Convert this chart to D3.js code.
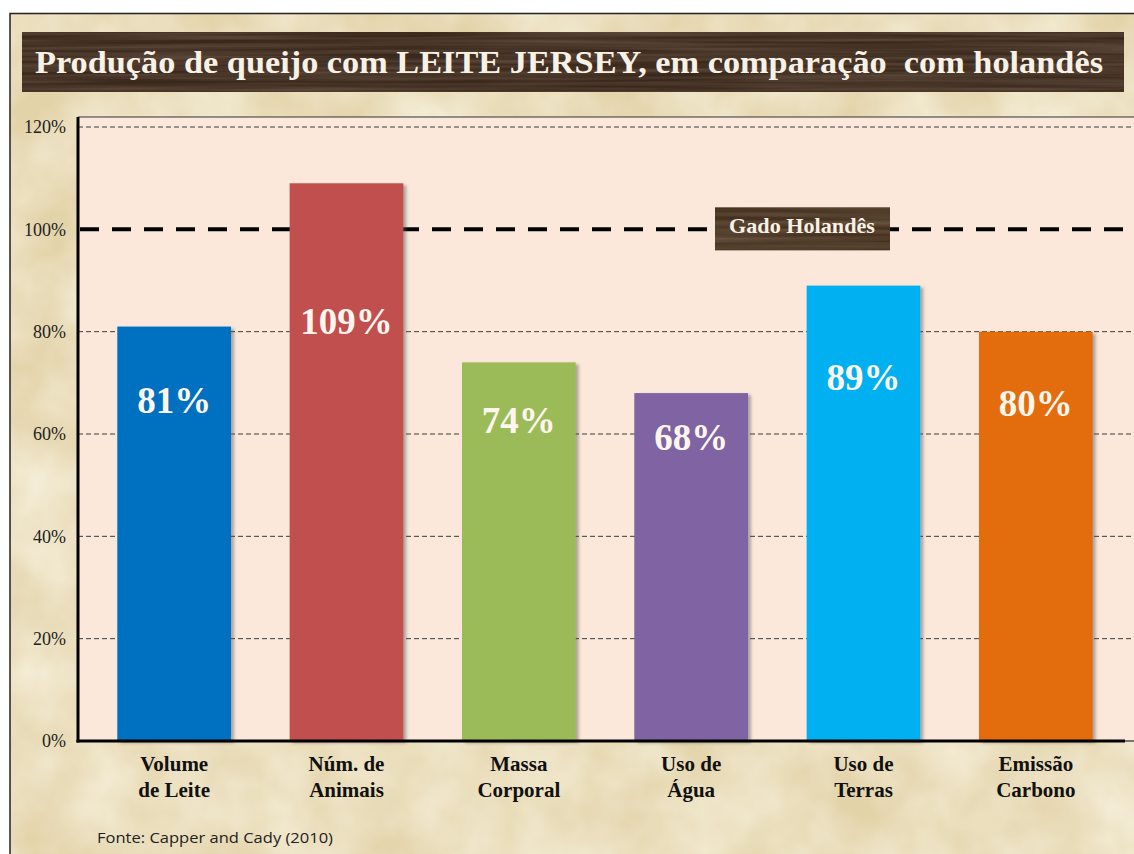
<!DOCTYPE html>
<html>
<head>
<meta charset="utf-8">
<script src="https://cdn.jsdelivr.net/npm/d3@7/dist/d3.min.js"></script>
<style>
  html, body { margin: 0; padding: 0; background: #e7d9b6; }
  svg { display: block; }
</style>
</head>
<body>
<svg id="chart" width="1134" height="854"></svg>
<script>
const titleText = "Produção de queijo com LEITE JERSEY, em comparação  com holandês";
const categories = [["Volume", "de Leite"], ["Núm. de", "Animais"], ["Massa", "Corporal"], ["Uso de", "Água"], ["Uso de", "Terras"], ["Emissão", "Carbono"]];
const values = [81, 109, 74, 68, 89, 80];
const valueLabels = ["81%", "109%", "74%", "68%", "89%", "80%"];
const barColors = ["#0070C0", "#C0504D", "#9BBB59", "#8064A2", "#00B0F0", "#E36C09"];
const yTicks = [0, 20, 40, 60, 80, 100, 120];
const yTickLabels = ["0%", "20%", "40%", "60%", "80%", "100%", "120%"];
const referenceValue = 100;
const referenceLabel = "Gado Holandês";
const sourceText = "Fonte: Capper and Cady (2010)";

(function () {
const svg = d3.select("#chart");
const W = 1134, H = 854;
const serif = "'Liberation Serif', 'Times New Roman', serif";
const defs = svg.append("defs");

// parchment texture
const tex = defs.append("filter").attr("id", "parch").attr("x", 0).attr("y", 0).attr("width", "100%").attr("height", "100%");
tex.append("feTurbulence").attr("type", "fractalNoise").attr("baseFrequency", "0.012").attr("numOctaves", 4).attr("seed", 3).attr("result", "n");
tex.append("feColorMatrix").attr("in", "n").attr("type", "matrix")
  .attr("values", "0 0 0 0 0.95  0 0 0 0 0.91  0 0 0 0 0.78  0 0 0 -1.2 0.95").attr("result", "c");
tex.append("feComposite").attr("in", "c").attr("in2", "SourceGraphic").attr("operator", "in");

// wood texture for title
const wood = defs.append("filter").attr("id", "wood").attr("x", 0).attr("y", 0).attr("width", "100%").attr("height", "100%");
wood.append("feTurbulence").attr("type", "fractalNoise").attr("baseFrequency", "0.004 0.25").attr("numOctaves", 2).attr("seed", 7).attr("result", "n");
wood.append("feColorMatrix").attr("in", "n").attr("type", "matrix")
  .attr("values", "0 0 0 0 0.33  0 0 0 0 0.24  0 0 0 0 0.17  0 0 0 -1.3 0.95").attr("result", "c");
wood.append("feComposite").attr("in", "c").attr("in2", "SourceGraphic").attr("operator", "in");

const shadow = defs.append("filter").attr("id", "shadow").attr("x", "-10%").attr("y", "-10%").attr("width", "130%").attr("height", "130%");
shadow.append("feDropShadow").attr("dx", 3).attr("dy", 2).attr("stdDeviation", 1.5).attr("flood-color", "#555").attr("flood-opacity", 0.45);

// background
svg.append("rect").attr("width", W).attr("height", H).attr("fill", "#e3d3a9");
svg.append("rect").attr("width", W).attr("height", H).attr("fill", "#e3d3a9").attr("filter", "url(#parch)");
svg.append("rect").attr("x", 0).attr("y", 0).attr("width", W).attr("height", 13).attr("fill", "#ffffff");
svg.append("rect").attr("x", 0).attr("y", 0).attr("width", 10).attr("height", H).attr("fill", "#ffffff");
svg.append("path").attr("d", `M10,${H} V13.5 H${W}`).attr("fill", "none").attr("stroke", "#222").attr("stroke-width", 1.5);

// title bar
svg.append("rect").attr("x", 22).attr("y", 32).attr("width", 1102).attr("height", 60).attr("fill", "#3a281c");
svg.append("rect").attr("x", 22).attr("y", 32).attr("width", 1102).attr("height", 60).attr("fill", "#3a281c").attr("filter", "url(#wood)").attr("opacity", 0.5);
svg.append("text").attr("x", 35).attr("y", 73)
  .attr("font-family", serif).attr("font-weight", "bold").attr("font-size", 31)
  .attr("fill", "#f7f1e6").attr("textLength", 1068).attr("lengthAdjust", "spacingAndGlyphs")
  .style("white-space", "pre").text(titleText);

// plot area
const pLeft = 78, pRight = 1134, pTop = 117, pBottom = 741;
svg.append("rect").attr("x", pLeft).attr("y", pTop).attr("width", pRight - pLeft).attr("height", pBottom - pTop).attr("fill", "#fbe8db");
svg.append("line").attr("x1", pLeft).attr("x2", pRight).attr("y1", pTop).attr("y2", pTop).attr("stroke", "#333").attr("stroke-width", 1.2);

const y = d3.scaleLinear().domain([0, 120]).range([pBottom, 127]);
const x = d3.scaleBand().domain(d3.range(values.length)).range([88, 1122]).paddingInner(0.34).paddingOuter(0.17);

// grid lines
svg.append("g").selectAll("line").data(yTicks.filter(t => t !== 0 && t !== referenceValue)).join("line")
  .attr("x1", pLeft).attr("x2", pRight).attr("y1", d => y(d)).attr("y2", d => y(d))
  .attr("stroke", "#3a3a3a").attr("stroke-width", 1).attr("stroke-dasharray", "5,3");

// y axis
const yAxis = d3.axisLeft(y).tickValues(yTicks).tickFormat((d, i) => yTickLabels[i]).tickSize(0).tickPadding(12);
const gy = svg.append("g").attr("transform", `translate(${pLeft},0)`).call(yAxis);
gy.select(".domain").remove();
gy.selectAll("text").attr("font-family", serif).attr("font-size", 18).attr("fill", "#222");

// reference line
svg.append("line").attr("x1", pLeft + 2).attr("x2", 1126).attr("y1", y(referenceValue)).attr("y2", y(referenceValue))
  .attr("stroke", "#000").attr("stroke-width", 4).attr("stroke-dasharray", "19,13");

// bars
svg.append("g").selectAll("rect").data(values).join("rect")
  .attr("x", (d, i) => x(i)).attr("width", x.bandwidth())
  .attr("y", d => y(d)).attr("height", d => y(0) - y(d))
  .attr("fill", (d, i) => barColors[i]).attr("filter", "url(#shadow)");

// value labels
svg.append("g").selectAll("text").data(values).join("text")
  .attr("x", (d, i) => x(i) + x.bandwidth() / 2)
  .attr("y", d => y(d * 0.55 + 22))
  .attr("text-anchor", "middle").attr("dominant-baseline", "central")
  .attr("font-family", serif).attr("font-weight", "bold").attr("font-size", 37)
  .attr("fill", "#fdf6ee").text((d, i) => valueLabels[i]);

// axes lines
svg.append("line").attr("x1", pLeft).attr("x2", pLeft).attr("y1", pTop).attr("y2", pBottom + 1.5).attr("stroke", "#000").attr("stroke-width", 3);
svg.append("line").attr("x1", pLeft - 1.5).attr("x2", 1125).attr("y1", pBottom).attr("y2", pBottom).attr("stroke", "#000").attr("stroke-width", 3);
svg.append("line").attr("x1", 1125).attr("x2", pRight).attr("y1", pBottom).attr("y2", pBottom).attr("stroke", "#000").attr("stroke-width", 1);

// reference label box
const refG = svg.append("g").attr("transform", `translate(802,${y(referenceValue)})`);
refG.append("rect").attr("x", -87).attr("y", -22).attr("width", 175).attr("height", 43).attr("fill", "#45311f");
refG.append("rect").attr("x", -87).attr("y", -22).attr("width", 175).attr("height", 43).attr("fill", "#45311f").attr("filter", "url(#wood)").attr("opacity", 0.5);
refG.append("text").attr("x", 0).attr("y", -3).attr("text-anchor", "middle").attr("dominant-baseline", "central")
  .attr("font-family", serif).attr("font-weight", "bold").attr("font-size", 21)
  .attr("fill", "#f7f1e6").attr("textLength", 146).attr("lengthAdjust", "spacingAndGlyphs").text(referenceLabel);

// category labels
const cat = svg.append("g").selectAll("text").data(categories).join("text")
  .attr("x", (d, i) => x(i) + x.bandwidth() / 2).attr("y", 771)
  .attr("text-anchor", "middle")
  .attr("font-family", serif).attr("font-weight", "bold").attr("font-size", 21)
  .attr("fill", "#111");
cat.selectAll("tspan").data(d => d).join("tspan")
  .attr("x", function() { return d3.select(this.parentNode).attr("x"); })
  .attr("dy", (d, j) => j === 0 ? 0 : 26).text(d => d);

// source
svg.append("text").attr("x", 97).attr("y", 843)
  .attr("font-family", "'Open Sans', 'Liberation Sans', sans-serif").attr("font-size", 14)
  .attr("fill", "#222").attr("textLength", 236).attr("lengthAdjust", "spacingAndGlyphs").text(sourceText);
})();
</script>
</body>
</html>
